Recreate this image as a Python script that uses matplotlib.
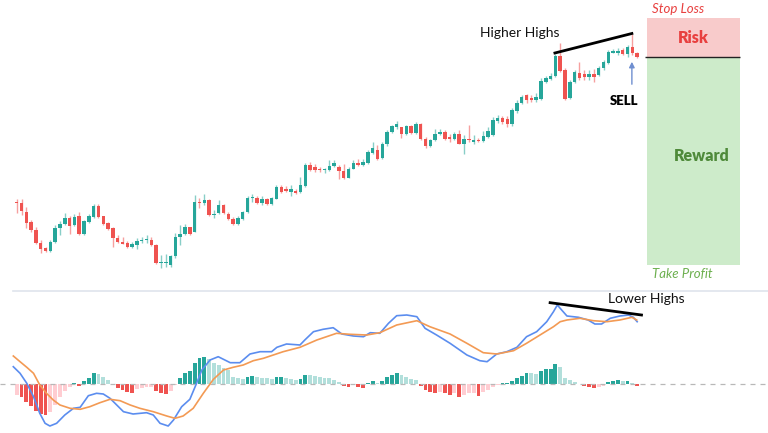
import matplotlib
matplotlib.use("Agg")
import matplotlib.pyplot as plt
import numpy as np
from matplotlib.patches import Rectangle
from matplotlib.lines import Line2D

plt.rcParams['font.family'] = ['Lato', 'DejaVu Sans']

# candle data (price units)
opens = [98, 97, 88, 78, 70, 57, 52, 49.5, 58, 72, 76, 82, 75, 84, 66, 78, 83, 94, 84, 77,
         72, 62, 58, 57.5, 53.5, 55, 59, 60, 60.5, 55.5,
         37, 37.5, 35, 44, 63, 66, 73, 68, 98.5, 97.5, 100, 85, 87, 95.5, 86.5, 81.5, 76, 81, 88, 102,
         102.5, 97.5, 101, 96, 101.5, 113.5, 111.5, 108.5, 109, 108.5, 114, 135,
         133.5, 131, 130, 130, 134, 133.5, 129.5, 122.5, 131.5, 137.5, 135, 137.5, 147.5, 150.5, 142.5,
         156.5, 168.5, 173.5, 173.5, 166, 174.5, 167.5, 176.5, 161.5, 154, 160, 166, 168.5, 163.5, 161.5,
         166, 156.5, 161.5, 158.5, 160.5,
         159, 163, 165, 179, 182, 181, 176, 189, 197, 205, 202, 200, 201, 218, 221, 224, 244, 230, 202,
         218, 227, 226, 223, 226, 225, 232, 237, 247.5, 247.5, 250, 246, 253, 247]
closes = [97, 89, 77, 70, 57, 51, 49.5, 58.5, 72, 76, 82, 74, 83, 66, 79, 84, 94, 83, 76, 71,
          62, 58, 56.5, 53.5, 56, 59, 60.5, 61, 55, 37,
          38, 38.5, 44, 63, 66, 73, 66, 98, 97.5, 100, 85, 86, 95.5, 87, 81, 76, 82.5, 88, 102, 102.5,
          97.5, 101.5, 96, 102.5, 113.5, 108.5, 109.5, 111.5, 107.5, 115, 135, 130,
          130, 130, 131.5, 134, 137.5, 129.5, 122.5, 131.5, 137.5, 135, 138.5, 148.5, 152.5, 141.5, 156.5,
          168.5, 174, 176, 166, 174.5, 167.5, 176.5, 161.5, 154, 160.5, 166, 168.5, 161.5, 161.5, 166,
          156.5, 161.5, 160.5, 160.5, 159,
          164, 169, 180, 182, 178, 176, 190, 197, 203, 200, 200, 203, 219, 222, 224, 244, 229, 201, 218,
          228, 222, 223, 226, 223, 232, 238, 248, 249, 249, 246, 253, 247, 243]
highs = [101, 101, 93, 80, 73, 60, 53.5, 60, 75, 79, 87, 84, 86, 88, 80, 86, 96, 96, 84.5, 78,
         73, 65, 63, 59, 58, 62, 63.5, 65, 63, 56,
         45, 46, 45, 67, 75, 76, 73.5, 105.5, 102, 106.5, 101, 90, 100, 96, 88, 83, 84, 89, 104, 106.5,
         104, 104, 102, 103, 115, 115, 114, 115, 111.5, 123.5, 137.5, 138.5,
         136.5, 133.5, 132, 140, 140, 135, 136.5, 133.5, 140, 141, 141.5, 150, 158.5, 155, 158.5, 170,
         175, 179.5, 173.5, 175, 175, 178.5, 177.5, 163.5, 161.5, 171.5, 171.5, 170, 166.5, 168.5, 170,
         165, 175, 165, 162,
         169, 173, 183, 185, 184, 184, 192, 200, 205, 206, 205, 207, 222, 224, 227, 246, 257, 232, 220,
         230, 238, 230, 230, 231, 234, 240, 250, 251, 252, 252, 255, 266.5, 248]
lows = [87, 85, 72, 68, 56, 47, 48, 48, 57, 65, 75, 66, 74.5, 65, 65, 77.5, 82.5, 82, 75, 70,
        53, 57, 56, 52, 52, 51, 57, 57, 54.5, 36,
        32, 33, 33, 42, 55, 65, 65.5, 68, 92, 95, 84, 82, 86, 86, 80, 75, 75, 80, 87, 98,
        96, 95, 95, 95.5, 101, 107.5, 108, 104, 106.5, 107.5, 113.5, 129.5,
        128.5, 128.5, 127, 129.5, 133.5, 121, 121.5, 122.5, 131, 134, 134, 136.5, 146.5, 140, 141.5, 154,
        167.5, 171.5, 162.5, 165, 166.5, 166.5, 160.5, 152.5, 153.5, 159.5, 165, 160, 158.5, 160, 156,
        146.5, 158.5, 156.5, 158,
        158, 162, 164, 177, 176, 173, 174, 187, 196, 197, 198, 198, 200, 217, 220, 223, 228, 200, 201,
        217, 220, 220, 220, 218, 224, 230, 236, 247, 245, 245, 243, 245, 242]

# MACD histogram, one bar per candle
hist = [-1.1, -1.3, -1.8, -2.2, -2.7, -3.0, -3.1, -2.8, -2.1, -1.3,
        -0.7, -0.3, 0.1, -0.2, 0.3, 0.6, 1.1, 1.0, 0.7, 0.4,
        0.0, -0.4, -0.6, -0.8, -0.85, -0.5, -0.35, -0.3, -0.25, -0.7,
        -0.9, -0.95, -0.7, -0.05, 0.6, 1.1, 1.3, 2.1, 2.6, 2.7,
        2.5, 2.1, 1.9, 1.6, 1.4, 0.7, 0.6, 0.5, 0.7, 0.8,
        0.7, 0.65, 0.6, 0.5, 0.7, 0.75, 0.6, 0.5, 0.4, 0.5,
        0.95, 0.9, 0.85, 0.7, 0.6, 0.58, 0.4, 0.2, -0.2, -0.3,
        -0.1, -0.3, -0.35, 0.1, 0.3, 0.1, 0.3, 0.7, 0.9, 1.1,
        0.9, 0.7, 0.5, 0.4, -0.2, -0.6, -0.8, -0.9, -0.8, -0.9,
        -1.1, -0.9, -1.3, -1.1, -0.9, -0.85, -1.2, -0.8, -0.6, -0.3,
        -0.1, 0.1, 0.15, 0.3, 0.6, 0.8, 1.1, 1.08, 1.05, 1.3,
        1.5, 1.55, 2.0, 1.7, 0.6, 0.4, 0.2, 0.05, -0.2, -0.3,
        -0.4, -0.3, -0.2, 0.2, 0.3, 0.4, 0.3, 0.32, 0.1, -0.2]

# MACD line (blue) and signal line (orange), sampled along the candles
macd_x = [-0.7, 0.7, 2.1, 3.5, 4.8, 5.9, 6.9, 8.3, 10.0, 11.8, 13.2, 14.9, 16.6, 18.0, 19.4, 20.8,
          22.2, 24.2, 27.0, 28.4, 29.8, 31.5, 32.6, 34.3, 36.0, 37.4, 38.5, 40.2, 41.9, 44.4, 46.4,
          48.5, 50.6, 53.0, 54.1, 56.1, 58.9, 59.9, 61.7, 63.7, 65.8, 67.6, 70.0, 72.1, 73.5, 75.5,
          77.3, 79.0, 81.1, 83.2, 84.9, 87.3, 90.1, 93.6, 96.3, 97.8, 99.8, 101.9, 104.0, 106.0,
          108.1, 110.2, 111.6, 112.4, 113.3, 114.4, 116.8, 118.8, 120.2, 121.6, 123.4, 125.4,
          127.2, 128.2, 129.0]
macd_y = [1.73, 1.07, 0.07, -1.27, -2.93, -3.93, -4.2, -3.93, -3.1, -2.43, -2.33, -1.17, -0.93,
          -1.0, -1.43, -2.1, -2.77, -3.0, -2.87, -3.1, -3.93, -4.2, -3.6, -2.27, -1.53, 0.07, 1.4,
          2.4, 2.73, 2.13, 2.13, 3.0, 3.23, 3.23, 3.67, 4.0, 3.9, 4.4, 5.23, 5.47, 5.63, 5.0, 4.8,
          4.73, 5.13, 5.07, 6.07, 6.83, 6.9, 6.73, 5.57, 4.9, 4.07, 2.9, 2.33, 2.23, 3.0, 3.23,
          3.67, 4.73, 5.23, 6.23, 7.23, 7.9, 7.4, 6.8, 6.67, 6.4, 6.0, 6.0, 6.57, 6.8, 6.9, 6.67,
          6.23]
signal_x = [-0.7, 0.7, 2.1, 3.5, 4.8, 6.2, 7.6, 9.0, 11.1, 13.2, 15.2, 17.3, 19.4, 21.5, 23.6,
            25.6, 28.4, 31.2, 32.9, 34.6, 36.7, 38.8, 40.9, 43.0, 45.0, 47.1, 49.2, 51.3, 55.4,
            58.9, 62.4, 66.5, 69.3, 72.8, 75.5, 79.0, 83.2, 85.9, 90.1, 93.6, 97.0, 99.8, 103.3,
            106.0, 108.8, 111.6, 113.0, 114.4, 117.1, 119.9, 122.7, 125.4, 127.9, 128.9]
signal_y = [2.8, 2.23, 1.67, 1.07, -0.1, -0.93, -1.6, -2.1, -2.43, -2.53, -2.27, -1.87, -1.53,
            -1.67, -2.1, -2.43, -2.77, -3.2, -3.43, -3.2, -2.43, -0.93, 0.47, 1.4, 1.67, 1.9, 2.33,
            2.57, 3.23, 3.67, 4.4, 5.07, 4.97, 4.9, 5.13, 5.9, 6.33, 5.73, 5.0, 4.07, 3.13, 3.0,
            3.33, 4.07, 4.9, 5.73, 6.23, 6.4, 6.57, 6.33, 6.23, 6.4, 6.67, 6.4]

# trade levels
stop_loss = 282
entry = 243
take_profit = 35

up_col = '#26a69a'
dn_col = '#ef5350'

fig = plt.figure(figsize=(7.68, 4.33), dpi=100)
ax = fig.add_axes([0, 143 / 433, 1, 290 / 433])
ax2 = fig.add_axes([0, 0, 1, 142 / 433])

x = np.arange(len(opens))
o = np.array(opens)
c = np.array(closes)
cols = [up_col if cc >= oo else dn_col for oo, cc in zip(o, c)]

ax.vlines(x, lows, highs, colors=cols, lw=1.0, alpha=0.55)
body = np.maximum(np.abs(c - o), 0.9)
ax.bar(x, body, bottom=np.minimum(o, c), width=0.72, color=cols)

# risk / reward boxes
bx0, bx1 = 131.0, 150.4
ax.add_patch(Rectangle((bx0, entry), bx1 - bx0, stop_loss - entry, color='#f8cbcb', lw=0))
ax.add_patch(Rectangle((bx0, take_profit), bx1 - bx0, entry - take_profit, color='#cdebca', lw=0))
ax.hlines(entry, bx0 - 0.4, bx1, color='#222222', lw=1)
ax.text((bx0 + bx1) / 2, 262, 'Risk', color='#e8403f', fontsize=11.5, fontweight='heavy',
        ha='center', va='center')
ax.text((bx0 + bx1) / 2 + 1.8, 144, 'Reward', color='#4f8a3a', fontsize=11.5, fontweight='heavy',
        ha='center', va='center')
ax.text(bx0 + 1.0, 291, 'Stop Loss', color='#e8403f', fontsize=9.5, style='italic',
        ha='left', va='center')
ax.text(bx0 + 1.0, 26, 'Take Profit', color='#6db04f', fontsize=9.5, style='italic',
        ha='left', va='center')

# higher highs annotation
ax.plot([111.9, 127.9], [247, 266.5], color='black', lw=2)
ax.text(104.6, 267, 'Higher Highs', fontsize=10, ha='center', va='center', color='#111111')
ax.text(126.3, 199, 'SELL', fontsize=9.5, fontweight='heavy', ha='center', va='center')
ax.annotate('', xy=(127.9, 241), xytext=(127.9, 213),
            arrowprops=dict(arrowstyle='-|>', color='#6f8fd0', lw=1, mutation_scale=8))

ax.set_xlim(-3.47, 156.2)
ax.set_ylim(10, 300)
ax.axis('off')

# MACD panel
h = np.array(hist)
hcols = []
for i, v in enumerate(h):
    prev = h[i - 1] if i > 0 else v
    if v >= 0:
        hcols.append('#26a69a' if v > prev else '#b2dfdb')
    else:
        hcols.append('#ef5350' if v < prev else '#ffcdd2')
ax2.bar(x, h, width=0.8, color=hcols)
ax2.axhline(0, color='#b8b8b8', lw=0.9, ls=(0, (4, 4)))
ax2.plot(macd_x, macd_y, color='#5b8def', lw=1.2)
ax2.plot(signal_x, signal_y, color='#f39a54', lw=1.2)
ax2.plot([110.9, 129.9], [8.13, 6.9], color='black', lw=2)
ax2.text(131.0, 8.5, 'Lower Highs', fontsize=10, ha='center', va='center', color='#111111')
ax2.set_xlim(-3.47, 156.2)
ax2.set_ylim(-4.9, 9.3)
ax2.axis('off')

fig.add_artist(Line2D([13 / 768, 1], [1 - 290.5 / 433] * 2, color='#dfe4ec', lw=1.2))

fig.savefig('out.png', dpi=100)
